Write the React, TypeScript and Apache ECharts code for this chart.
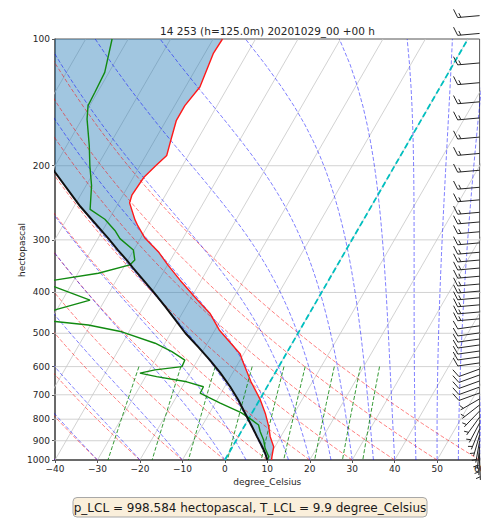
import React, { useEffect, useRef } from "react";
import * as echarts from "echarts";

// ---------- layout ----------
const W = 481;
const H = 519;
const GRID_LEFT = 55;
const GRID_RIGHT = 1.4;
const GRID_TOP = 39;
const GRID_BOTTOM = 59;
const X_MIN = -40;
const X_MAX = 60;
const SKEW_DEG = 30;
const FONT = "DejaVu Sans";

// ---------- texts ----------
const TITLE = "14 253 (h=125.0m) 20201029_00 +00 h";
const X_NAME = "degree_Celsius";
const Y_NAME = "hectopascal";
const LCL_TEXT = "p_LCL = 998.584 hectopascal, T_LCL = 9.9 degree_Celsius";

// ---------- ticks ----------
const pressureTicks = [100, 200, 300, 400, 500, 600, 700, 800, 900, 1000];
const gridPressures = [200, 300, 400, 500, 600, 700, 800, 900];
const isothermTemps = [-100, -90, -80, -70, -60, -50, -40, -30, -20, -10, 0, 10, 20, 30, 40, 50, 60];

// ---------- reference lines (starting temperatures / mixing ratios) ----------
const dryAdiabatT0 = [-40, -30, -20, -10, 0, 10, 20, 30, 40, 50, 60];
const moistAdiabatT0 = [-40, -30, -20, -10, 0, 5, 10, 15, 20, 25, 30, 35, 40, 45, 50, 55, 60];
const mixingRatios = [0.0004, 0.001, 0.002, 0.004, 0.007, 0.01, 0.016, 0.024, 0.032];

// ---------- sounding: temperature ----------
const tempPressure = [1000, 980, 930, 880, 833, 775, 720, 650, 580, 560, 491, 448, 417, 374, 345, 320, 297, 278, 269, 245, 235, 213, 200, 189, 174, 156, 144, 130, 108, 100];
const tempValue = [11.0, 10.6, 9.7, 7.5, 5.8, 3.2, 0.2, -4.6, -9.4, -10.8, -19.0, -23.5, -28.2, -35.0, -39.8, -44.0, -49.0, -52.3, -53.8, -57.4, -57.9, -57.5, -56.3, -55.1, -56.2, -57.6, -57.6, -56.6, -58.0, -57.8];

// ---------- sounding: dewpoint ----------
const dewPressure = [1000, 982, 938, 896, 857, 826, 803, 772, 733, 707, 694, 670, 652, 634, 622, 611, 600, 579, 553, 528, 496, 478, 469, 455, 440, 417, 388, 380, 374, 360, 344, 335, 317, 298, 285, 268, 254, 223, 200, 179, 155, 144, 134, 120, 100];
const dewValue = [10.0, 9.9, 7.9, 6.4, 4.5, 3.2, 0.9, -2.6, -8.8, -12.8, -14.9, -15.0, -19.6, -27.4, -31.8, -28.7, -22.8, -23.0, -27.2, -32.3, -41.7, -50.5, -58.8, -66.0, -60.4, -53.5, -63.6, -70.0, -64.5, -55.2, -48.9, -48.4, -50.1, -54.8, -57.1, -61.0, -65.8, -68.7, -71.8, -74.7, -78.8, -80.4, -80.6, -81.0, -83.8];

// ---------- parcel profile ----------
const parcelPressure = [1000, 964, 930, 880, 830, 789, 720, 670, 620, 579, 540, 500, 432, 400, 350, 335, 317, 298, 250, 207, 150, 100];
const parcelValue = [10.0, 8.6, 7.0, 4.4, 1.7, -0.7, -5.0, -8.7, -13.0, -17.1, -21.5, -26.5, -34.9, -39.5, -47.7, -50.3, -53.8, -57.5, -68.5, -79.2, -96.2, -115.5];

// ---------- wind barbs ----------
const barbPressure = [88, 97, 114, 127, 141, 154, 171, 187, 205, 225, 241, 258, 272, 287, 305, 321, 335, 350, 366, 382, 397, 412, 428, 445, 462, 480, 499, 516, 533, 551, 569, 588, 608, 628, 649, 671, 693, 716, 740, 765, 791, 817, 844, 872, 901, 931, 963, 989];
const barbDirection = [265, 265, 265, 265, 265, 265, 265, 265, 265, 265, 265, 265, 265, 265, 265, 265, 265, 265, 265, 265, 265, 265, 265, 265, 265, 262, 262, 262, 262, 262, 262, 262, 250, 250, 250, 250, 250, 240, 232, 224, 216, 208, 202, 196, 190, 186, 182, 178];
const barbSpeed = [15, 15, 15, 15, 15, 15, 15, 15, 15, 15, 15, 15, 15, 15, 15, 15, 15, 15, 15, 15, 15, 15, 15, 15, 15, 10, 10, 10, 10, 10, 10, 10, 10, 10, 10, 10, 10, 5, 5, 5, 5, 5, 5, 5, 5, 5, 5, 5];

// ---------- thermodynamics for the background reference lines ----------
const RD = 287.04749;
const LV = 2.50084e6;
const CPD = 1004.6662;
const EPS = 0.6219569;
const KAPPA = RD / CPD;

const plotW = W - GRID_LEFT - GRID_RIGHT;
const plotH = H - GRID_TOP - GRID_BOTTOM;
const SKEW_K = (plotH * Math.tan((SKEW_DEG * Math.PI) / 180)) / (plotW / (X_MAX - X_MIN));

const skewPoint = (t: number, p: number): [number, number] => [t + SKEW_K * (3 - Math.log10(p)), Math.log10(p)];

const linspace = (a: number, b: number, n: number) => {
  const out: number[] = [];
  for (let i = 0; i < n; i++) out.push(a + ((b - a) * i) / (n - 1));
  return out;
};

const satVap = (tk: number) => 6.112 * Math.exp((17.67 * (tk - 273.15)) / (tk - 29.65));
const moistDTdp = (p: number, tk: number) => {
  const e = satVap(tk);
  const rs = (EPS * e) / (p - e);
  return (RD * tk + LV * rs) / (CPD + (LV * LV * rs * EPS) / (RD * tk * tk)) / p;
};

function moistAdiabat(t0: number, ps: number[]): number[] {
  let tk = t0 + 273.15;
  const out = [tk - 273.15];
  for (let i = 1; i < ps.length; i++) {
    const n = 4;
    const h = (ps[i] - ps[i - 1]) / n;
    let p = ps[i - 1];
    for (let k = 0; k < n; k++) {
      const k1 = moistDTdp(p, tk);
      const k2 = moistDTdp(p + h / 2, tk + (h / 2) * k1);
      const k3 = moistDTdp(p + h / 2, tk + (h / 2) * k2);
      const k4 = moistDTdp(p + h, tk + h * k3);
      tk += (h / 6) * (k1 + 2 * k2 + 2 * k3 + k4);
      p += h;
    }
    out.push(tk - 273.15);
  }
  return out;
}

const dryAdiabat = (t0: number, ps: number[]) => ps.map((p) => (t0 + 273.15) * Math.pow(p / 1000, KAPPA) - 273.15);

const mixingDewpoint = (w: number, p: number) => {
  const e = (p * w) / (EPS + w);
  const l = Math.log(e / 6.112);
  return (243.5 * l) / (17.67 - l);
};

function lineSeries(data: any[], color: string, width: number, type: any, z: number) {
  return {
    type: "line",
    data,
    symbol: "none",
    showSymbol: false,
    silent: true,
    clip: true,
    z,
    lineStyle: { color, width, type },
    emphasis: { disabled: true },
  };
}

function buildOption() {
  const adiabatP = linspace(1000, 100, 61);
  const mixP = linspace(600, 1000, 25);
  const series: any[] = [];

  // isotherms (skewed grid)
  isothermTemps.forEach((t) => {
    series.push(lineSeries([skewPoint(t, 1000), skewPoint(t, 100)], "#c6c6c6", 0.8, "solid", 1));
  });
  // pressure grid
  gridPressures.forEach((p) => {
    series.push(lineSeries([[X_MIN - 5, Math.log10(p)], [X_MAX + 5, Math.log10(p)]], "#c6c6c6", 0.8, "solid", 1));
  });

  // shaded region between parcel and environment
  const envPts = tempPressure.map((p, i) => skewPoint(tempValue[i], p));
  const parcelPts = parcelPressure.map((p, i) => skewPoint(parcelValue[i], p)).reverse();
  const polyPts = envPts.concat(parcelPts);
  series.push({
    type: "custom",
    silent: true,
    clip: true,
    z: 2,
    data: [[0, 2.5]],
    renderItem: (_params: any, api: any) => ({
      type: "polygon",
      shape: { points: polyPts.map((pt) => api.coord(pt)) },
      style: { fill: "rgba(31,119,180,0.42)", stroke: "none" },
    }),
  });

  // dry adiabats
  dryAdiabatT0.forEach((t0) => {
    const ts = dryAdiabat(t0, adiabatP);
    series.push(lineSeries(adiabatP.map((p, i) => skewPoint(ts[i], p)), "rgba(255,0,0,0.5)", 1, [4, 2], 3));
  });
  // moist adiabats
  moistAdiabatT0.forEach((t0) => {
    const ts = moistAdiabat(t0, adiabatP);
    series.push(lineSeries(adiabatP.map((p, i) => skewPoint(ts[i], p)), "rgba(0,0,255,0.5)", 1, [4, 2], 3));
  });
  // mixing ratio lines
  mixingRatios.forEach((w) => {
    series.push(lineSeries(mixP.map((p) => skewPoint(mixingDewpoint(w, p), p)), "rgba(0,128,0,0.8)", 1, [4, 2], 3));
  });

  // 0 degC isotherm
  series.push(lineSeries([skewPoint(0, 1000), skewPoint(0, 100)], "#00bfbf", 1.8, [6, 3], 4));

  // temperature, dewpoint, parcel
  series.push(lineSeries(envPts, "#ff1a1a", 1.4, "solid", 5));
  series.push(lineSeries(dewPressure.map((p, i) => skewPoint(dewValue[i], p)), "#118a11", 1.4, "solid", 5));
  series.push(lineSeries(parcelPressure.map((p, i) => skewPoint(parcelValue[i], p)), "#111111", 2, "solid", 6));

  // wind barbs at the right edge
  series.push({
    type: "custom",
    silent: true,
    clip: false,
    z: 7,
    data: barbPressure.map((p, i) => [X_MAX, Math.log10(p), barbDirection[i], barbSpeed[i]]),
    renderItem: (_params: any, api: any) => {
      const base = api.coord([api.value(0), api.value(1)]);
      const bx = base[0];
      const by = base[1];
      const dir = (api.value(2) * Math.PI) / 180;
      const spd = api.value(3);
      const sx = Math.sin(dir);
      const sy = -Math.cos(dir);
      const nx = -sy;
      const ny = sx;
      const L = 22;
      const h = 8.5;
      const gap = 3.2;
      const stroke = { stroke: "#262626", lineWidth: 1 };
      const children: any[] = [
        { type: "line", shape: { x1: bx, y1: by, x2: bx + sx * L, y2: by + sy * L }, style: stroke },
      ];
      let rem = spd;
      let pos = 0;
      const feather = (len: number) => {
        const qx = bx + sx * (L - pos);
        const qy = by + sy * (L - pos);
        children.push({
          type: "line",
          shape: { x1: qx, y1: qy, x2: qx + nx * len + sx * len * 0.4, y2: qy + ny * len + sy * len * 0.4 },
          style: stroke,
        });
      };
      while (rem >= 10) {
        feather(h);
        rem -= 10;
        pos += gap;
      }
      if (rem >= 5) {
        if (spd < 10) pos = gap;
        feather(h / 2);
      }
      return { type: "group", children };
    },
  });

  const textColor = "#262626";
  const axisColor = "#555555";

  return {
    animation: false,
    textStyle: { fontFamily: FONT },
    grid: {
      left: GRID_LEFT,
      right: GRID_RIGHT,
      top: GRID_TOP,
      bottom: GRID_BOTTOM,
      show: true,
      borderColor: axisColor,
      borderWidth: 1,
      backgroundColor: "transparent",
      containLabel: false,
      outerBoundsMode: "none",
    },
    xAxis: {
      type: "value",
      min: X_MIN,
      max: X_MAX,
      interval: 10,
      name: X_NAME,
      nameLocation: "middle",
      nameGap: 17,
      nameTextStyle: { fontFamily: FONT, fontSize: 9, color: textColor },
      axisLine: { show: true, onZero: false, lineStyle: { color: axisColor, width: 1.5 } },
      axisTick: { show: true, length: 3, lineStyle: { color: axisColor } },
      axisLabel: {
        fontFamily: FONT,
        fontSize: 9,
        color: textColor,
        margin: 4,
        hideOverlap: false,
        formatter: (v: number) => String(v).replace("-", "\u2212"),
      },
      splitLine: { show: false },
    },
    yAxis: {
      type: "value",
      min: 2,
      max: 3,
      inverse: true,
      axisLine: { show: true, onZero: false, lineStyle: { color: axisColor, width: 1.5 } },
      axisTick: { show: true, length: 3, customValues: pressureTicks.map((p) => Math.log10(p)), lineStyle: { color: axisColor } },
      axisLabel: {
        fontFamily: FONT,
        fontSize: 9,
        color: textColor,
        margin: 5,
        customValues: pressureTicks.map((p) => Math.log10(p)),
        formatter: (v: number) => String(Math.round(Math.pow(10, v))),
      },
      splitLine: { show: false },
    },
    graphic: [
      {
        type: "text",
        x: 267.5,
        y: 31,
        silent: true,
        style: {
          text: TITLE,
          fill: textColor,
          fontFamily: FONT,
          fontSize: 10.5,
          textAlign: "center",
          textVerticalAlign: "middle",
        },
      },
      {
        type: "text",
        x: 21.5,
        y: 250,
        rotation: Math.PI / 2,
        silent: true,
        style: {
          text: Y_NAME,
          fill: textColor,
          fontFamily: FONT,
          fontSize: 9,
          textAlign: "center",
          textVerticalAlign: "middle",
        },
      },
      {
        type: "rect",
        silent: true,
        shape: { x: 73, y: 497.5, width: 354, height: 19.5, r: 4 },
        style: { fill: "#faefdb", stroke: "#a8a8a8", lineWidth: 1 },
      },
      {
        type: "text",
        x: 250,
        y: 507.5,
        silent: true,
        style: {
          text: LCL_TEXT,
          fill: "#1a1a1a",
          fontFamily: FONT,
          fontSize: 12,
          textAlign: "center",
          textVerticalAlign: "middle",
        },
      },
    ],
    series,
  };
}

export default function App() {
  const ref = useRef<HTMLDivElement>(null);
  useEffect(() => {
    if (!ref.current) return;
    const chart = echarts.init(ref.current, undefined, { renderer: "svg" });
    chart.setOption(buildOption() as any);
    return () => chart.dispose();
  }, []);
  return (
    <div
      ref={ref}
      style={{ position: "absolute", left: 0, top: 0, width: W, height: H, background: "#ffffff" }}
    />
  );
}
